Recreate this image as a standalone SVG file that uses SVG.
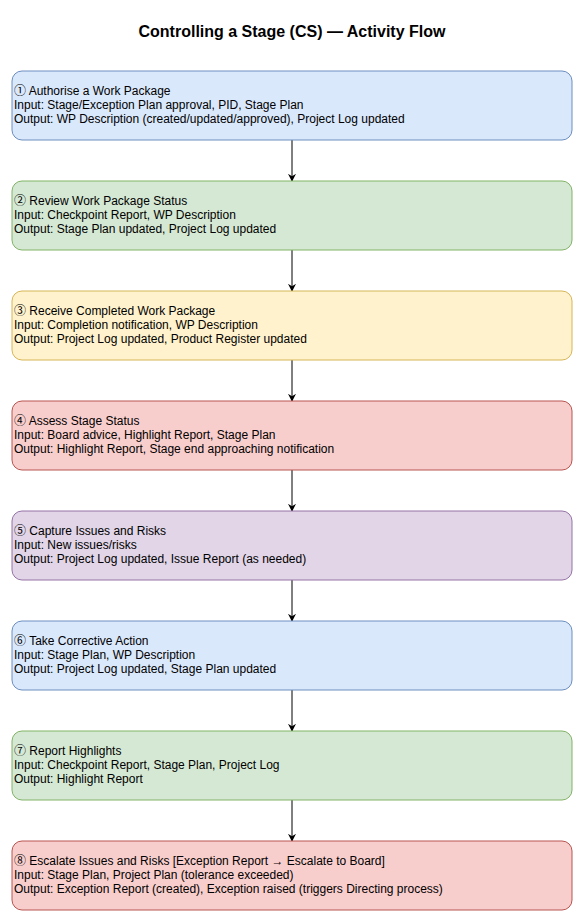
<svg xmlns="http://www.w3.org/2000/svg" width="584" height="923" viewBox="0 0 584 923">
<defs>
<style>
.t{font-family:"Liberation Sans",Arial,Helvetica,sans-serif;font-size:12px;fill:#000}
.c{font-family:"Noto Sans CJK JP","DejaVu Sans",sans-serif;font-size:12px}
.title{font-family:"Liberation Sans",Arial,Helvetica,sans-serif;font-size:16px;font-weight:bold;fill:#000}
.box{stroke-width:1}
.blue{fill:#dae8fc;stroke:#6c8ebf}
.green{fill:#d5e8d4;stroke:#82b366}
.yellow{fill:#fff2cc;stroke:#d6b656}
.red{fill:#f8cecc;stroke:#b85450}
.purple{fill:#e1d5e7;stroke:#9673a6}
.edge{stroke:#000;stroke-width:1;fill:none;marker-end:url(#arr)}
</style>
<marker id="arr" viewBox="0 0 10 10" refX="9" refY="5" markerWidth="8" markerHeight="8" markerUnits="userSpaceOnUse" orient="auto">
<path d="M0,0 L10,5 L0,10 L3,5 Z" fill="#000"/>
</marker>
</defs>
<rect width="584" height="923" fill="#fff"/>
<text class="title" x="292" y="37" text-anchor="middle">Controlling a Stage (CS) — Activity Flow</text>
<g id="connectors">
<line class="edge" x1="292" y1="140" x2="292" y2="181"/>
<line class="edge" x1="292" y1="250" x2="292" y2="291"/>
<line class="edge" x1="292" y1="360" x2="292" y2="401"/>
<line class="edge" x1="292" y1="470" x2="292" y2="511"/>
<line class="edge" x1="292" y1="580" x2="292" y2="621"/>
<line class="edge" x1="292" y1="690" x2="292" y2="731"/>
<line class="edge" x1="292" y1="800" x2="292" y2="841"/>
</g>
<g id="n1">
<rect class="box blue" x="12" y="71" width="560" height="69" rx="10"/>
<text class="t" x="14" y="95"><tspan class="c">①</tspan> Authorise a Work Package</text>
<text class="t" x="14" y="109">Input: Stage/Exception Plan approval, PID, Stage Plan</text>
<text class="t" x="14" y="123">Output: WP Description (created/updated/approved), Project Log updated</text>
</g>
<g id="n2">
<rect class="box green" x="12" y="181" width="560" height="69" rx="10"/>
<text class="t" x="14" y="205"><tspan class="c">②</tspan> Review Work Package Status</text>
<text class="t" x="14" y="219">Input: Checkpoint Report, WP Description</text>
<text class="t" x="14" y="233">Output: Stage Plan updated, Project Log updated</text>
</g>
<g id="n3">
<rect class="box yellow" x="12" y="291" width="560" height="69" rx="10"/>
<text class="t" x="14" y="315"><tspan class="c">③</tspan> Receive Completed Work Package</text>
<text class="t" x="14" y="329">Input: Completion notification, WP Description</text>
<text class="t" x="14" y="343">Output: Project Log updated, Product Register updated</text>
</g>
<g id="n4">
<rect class="box red" x="12" y="401" width="560" height="69" rx="10"/>
<text class="t" x="14" y="425"><tspan class="c">④</tspan> Assess Stage Status</text>
<text class="t" x="14" y="439">Input: Board advice, Highlight Report, Stage Plan</text>
<text class="t" x="14" y="453">Output: Highlight Report, Stage end approaching notification</text>
</g>
<g id="n5">
<rect class="box purple" x="12" y="511" width="560" height="69" rx="10"/>
<text class="t" x="14" y="535"><tspan class="c">⑤</tspan> Capture Issues and Risks</text>
<text class="t" x="14" y="549">Input: New issues/risks</text>
<text class="t" x="14" y="563">Output: Project Log updated, Issue Report (as needed)</text>
</g>
<g id="n6">
<rect class="box blue" x="12" y="621" width="560" height="69" rx="10"/>
<text class="t" x="14" y="645"><tspan class="c">⑥</tspan> Take Corrective Action</text>
<text class="t" x="14" y="659">Input: Stage Plan, WP Description</text>
<text class="t" x="14" y="673">Output: Project Log updated, Stage Plan updated</text>
</g>
<g id="n7">
<rect class="box green" x="12" y="731" width="560" height="69" rx="10"/>
<text class="t" x="14" y="755"><tspan class="c">⑦</tspan> Report Highlights</text>
<text class="t" x="14" y="769">Input: Checkpoint Report, Stage Plan, Project Log</text>
<text class="t" x="14" y="783">Output: Highlight Report</text>
</g>
<g id="n8">
<rect class="box red" x="12" y="841" width="560" height="69" rx="10"/>
<text class="t" x="14" y="865"><tspan class="c">⑧</tspan> Escalate Issues and Risks [Exception Report → Escalate to Board]</text>
<text class="t" x="14" y="879">Input: Stage Plan, Project Plan (tolerance exceeded)</text>
<text class="t" x="14" y="893">Output: Exception Report (created), Exception raised (triggers Directing process)</text>
</g>
</svg>
